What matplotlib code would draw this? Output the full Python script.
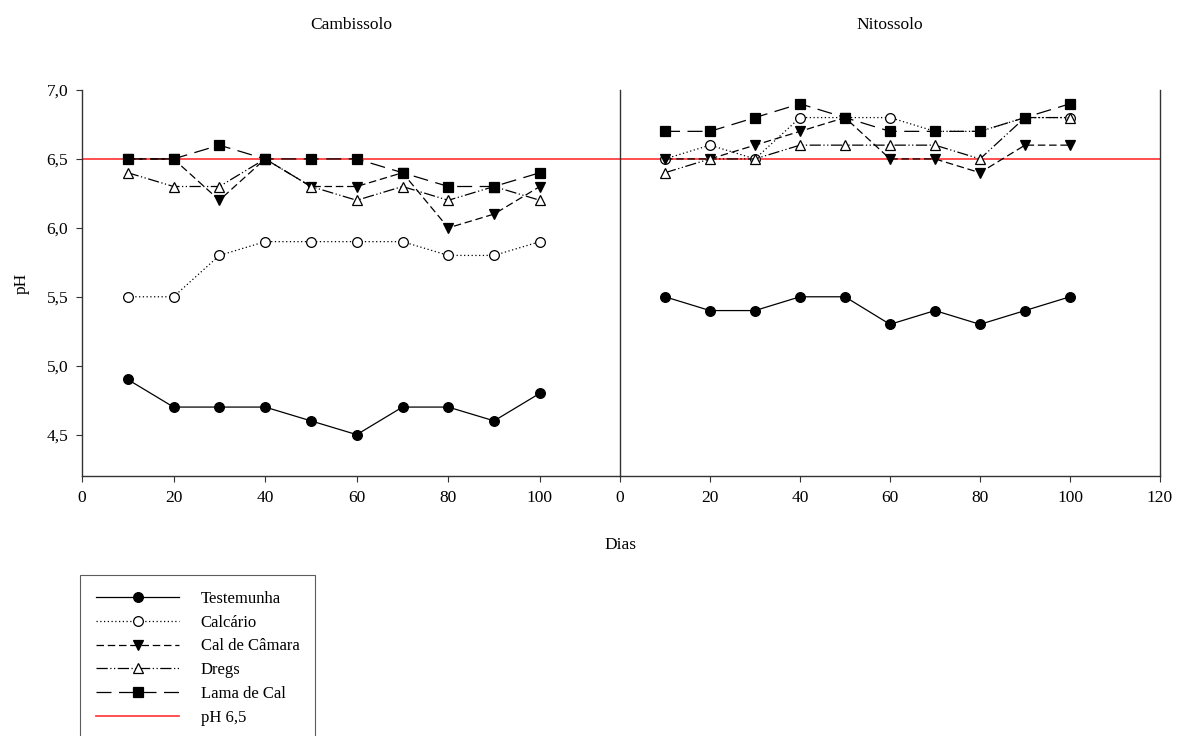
import matplotlib
matplotlib.use("Agg")
import matplotlib.pyplot as plt
from matplotlib.ticker import FuncFormatter
from matplotlib.lines import Line2D

plt.rcParams["font.family"] = ["Liberation Serif", "DejaVu Serif"]
plt.rcParams["font.size"] = 12.5

# Data
dias = [10, 20, 30, 40, 50, 60, 70, 80, 90, 100]

camb_testemunha = [4.9, 4.7, 4.7, 4.7, 4.6, 4.5, 4.7, 4.7, 4.6, 4.8]
camb_calcario = [5.5, 5.5, 5.8, 5.9, 5.9, 5.9, 5.9, 5.8, 5.8, 5.9]
camb_cal_camara = [6.5, 6.5, 6.2, 6.5, 6.3, 6.3, 6.4, 6.0, 6.1, 6.3]
camb_dregs = [6.4, 6.3, 6.3, 6.5, 6.3, 6.2, 6.3, 6.2, 6.3, 6.2]
camb_lama = [6.5, 6.5, 6.6, 6.5, 6.5, 6.5, 6.4, 6.3, 6.3, 6.4]

nito_testemunha = [5.5, 5.4, 5.4, 5.5, 5.5, 5.3, 5.4, 5.3, 5.4, 5.5]
nito_calcario = [6.5, 6.6, 6.5, 6.8, 6.8, 6.8, 6.7, 6.7, 6.8, 6.8]
nito_cal_camara = [6.5, 6.5, 6.6, 6.7, 6.8, 6.5, 6.5, 6.4, 6.6, 6.6]
nito_dregs = [6.4, 6.5, 6.5, 6.6, 6.6, 6.6, 6.6, 6.5, 6.8, 6.8]
nito_lama = [6.7, 6.7, 6.8, 6.9, 6.8, 6.7, 6.7, 6.7, 6.8, 6.9]

ph_ref = 6.5
series_names = ["Testemunha", "Calcário", "Cal de Câmara", "Dregs", "Lama de Cal"]

styles = [
    dict(linestyle="-", marker="o", markerfacecolor="black"),
    dict(linestyle=(0, (1, 2)), marker="o", markerfacecolor="white"),
    dict(linestyle=(0, (6, 3)), marker="v", markerfacecolor="black"),
    dict(linestyle=(0, (9, 2, 1, 2, 1, 2)), marker="^", markerfacecolor="white"),
    dict(linestyle=(0, (12, 6)), marker="s", markerfacecolor="black"),
]

W, H = 1181, 736
fig = plt.figure(figsize=(W / 100, H / 100), dpi=100)

top, bot = 90, 476
ax1 = fig.add_axes([82 / W, (H - bot) / H, 538 / W, (bot - top) / H])
ax2 = fig.add_axes([620 / W, (H - bot) / H, 540 / W, (bot - top) / H], sharey=ax1)

camb = [camb_testemunha, camb_calcario, camb_cal_camara, camb_dregs, camb_lama]
nito = [nito_testemunha, nito_calcario, nito_cal_camara, nito_dregs, nito_lama]

for ax, data in ((ax1, camb), (ax2, nito)):
    ax.axhline(ph_ref, color="#ff3030", lw=1.2, zorder=1)
    for vals, st in zip(data, styles):
        ax.plot(dias, vals, color="black", lw=0.9, markersize=7,
                markeredgecolor="black", markeredgewidth=0.9, zorder=3, **st)

ax1.set_xlim(0, 117.5)
ax2.set_xlim(0, 120)
ax1.set_ylim(4.2, 7.0)
ax1.set_xticks([0, 20, 40, 60, 80, 100])
ax2.set_xticks([0, 20, 40, 60, 80, 100, 120])
ax1.set_yticks([4.5, 5.0, 5.5, 6.0, 6.5, 7.0])
ax1.yaxis.set_major_formatter(FuncFormatter(lambda v, p: f"{v:.1f}".replace(".", ",")))

for s in ("top", "right"):
    ax1.spines[s].set_visible(False)
ax2.spines["top"].set_visible(False)
for ax in (ax1, ax2):
    for sp in ax.spines.values():
        sp.set_color("#333333")
        sp.set_linewidth(1.0)
    ax.tick_params(direction="out", length=4, width=0.8, labelsize=12.5,
                   color="#333333", pad=6)
ax2.tick_params(axis="y", left=False, labelleft=False)
ax2.patch.set_alpha(0)

ax1.set_ylabel("pH", fontsize=12.5, labelpad=12)
fig.text(620 / W, 1 - 545 / H, "Dias", ha="center", va="center", fontsize=12.5)
fig.text(351 / W, 1 - 25 / H, "Cambissolo", ha="center", va="center", fontsize=12.5)
fig.text(890 / W, 1 - 25 / H, "Nitossolo", ha="center", va="center", fontsize=12.5)

handles = []
for name, st in zip(series_names, styles):
    handles.append(Line2D([], [], color="black", lw=0.9, markersize=7,
                          markeredgecolor="black", markeredgewidth=0.9, label=name, **st))
handles.append(Line2D([], [], color="#ff3030", lw=1.2, label="pH 6,5"))

leg = fig.legend(handles=handles, loc="upper left",
                 bbox_to_anchor=(80 / W, 1 - 575 / H), fontsize=12,
                 frameon=True, fancybox=False, edgecolor="#333333",
                 handlelength=5.0, handletextpad=1.3, labelspacing=0.47,
                 borderpad=0.95, borderaxespad=0)
leg.get_frame().set_linewidth(0.8)

fig.savefig("out.png", dpi=100)
